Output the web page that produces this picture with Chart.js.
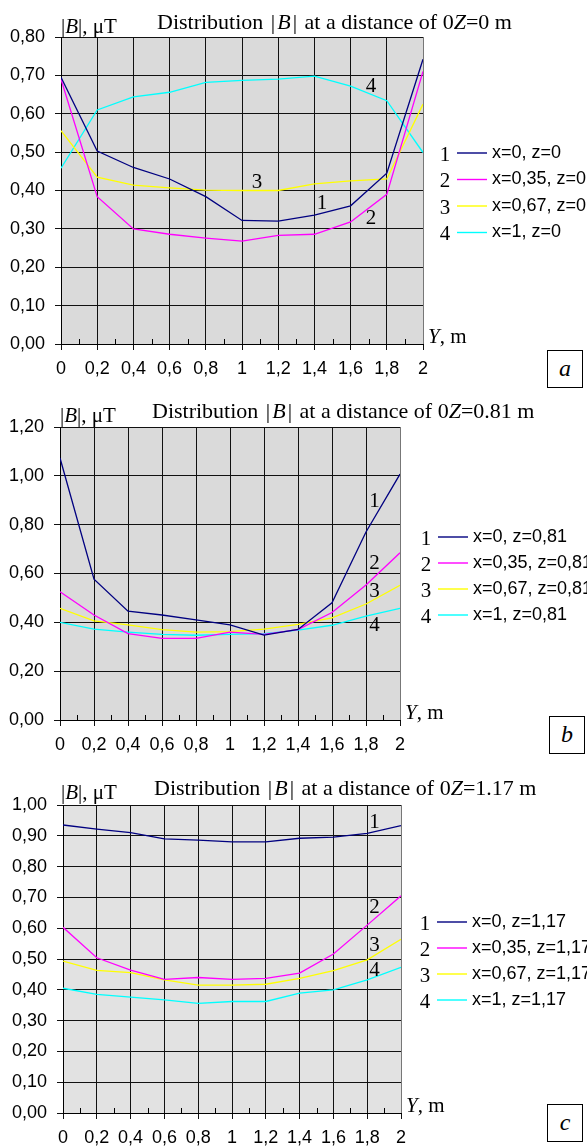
<!DOCTYPE html>
<html><head><meta charset="utf-8">
<script src="https://cdn.jsdelivr.net/npm/chart.js@4.4.0/dist/chart.umd.min.js"></script>
<style>
html,body{margin:0;padding:0;background:#fff;}
#page{position:relative;width:587px;height:1147px;overflow:hidden;background:#fff;}
.cv{position:absolute;left:0;width:587px;}
.t{position:absolute;font-family:"Liberation Serif","Times New Roman",serif;font-size:21px;line-height:21px;white-space:nowrap;color:#000;}
.t.ttl{font-size:22px;}
.t i{font-style:italic;}
.bar{margin:0 2px;}
.box{position:absolute;width:34px;height:36px;border:1px solid #000;font-family:"Liberation Serif","Times New Roman",serif;font-style:italic;font-size:24px;text-align:center;line-height:34px;color:#000;background:#fff;}
</style></head>
<body><div id="page">
<div class="cv" style="top:0;height:395px"><canvas id="cA"></canvas></div>
<div class="cv" style="top:395px;height:365px"><canvas id="cB"></canvas></div>
<div class="cv" style="top:760px;height:387px"><canvas id="cC"></canvas></div>

<div class="t" style="left:61px;top:16px">|<i>B</i>|, μT</div>
<div class="t ttl" style="left:157px;top:11px">Distribution <span class="bar">|</span><i>B</i><span class="bar">|</span> at a distance of 0<i>Z</i>=0 m</div>
<div class="t" style="left:428px;top:326px"><i>Y</i>, m</div>
<div class="box" style="left:547px;top:350px">a</div>

<div class="t" style="left:60px;top:405px">|<i>B</i>|, μT</div>
<div class="t ttl" style="left:152px;top:400px">Distribution <span class="bar">|</span><i>B</i><span class="bar">|</span> at a distance of 0<i>Z</i>=0.81 m</div>
<div class="t" style="left:405px;top:702px"><i>Y</i>, m</div>
<div class="box" style="left:549px;top:716px">b</div>

<div class="t" style="left:61px;top:782px">|<i>B</i>|, μT</div>
<div class="t ttl" style="left:154px;top:777px">Distribution <span class="bar">|</span><i>B</i><span class="bar">|</span> at a distance of 0<i>Z</i>=1.17 m</div>
<div class="t" style="left:406px;top:1095px"><i>Y</i>, m</div>
<div class="box" style="left:547px;top:1104px">c</div>
</div>
<script>
// ---- data ----
const yPositions = [0, 0.2, 0.4, 0.6, 0.8, 1, 1.2, 1.4, 1.6, 1.8, 2];
const xTickLabels = ['0','0,2','0,4','0,6','0,8','1','1,2','1,4','1,6','1,8','2'];
const yTickLabelsA = ['0,00','0,10','0,20','0,30','0,40','0,50','0,60','0,70','0,80'];
const yTickLabelsB = ['0,00','0,20','0,40','0,60','0,80','1,00','1,20'];
const yTickLabelsC = ['0,00','0,10','0,20','0,30','0,40','0,50','0,60','0,70','0,80','0,90','1,00'];

const legendA = ['x=0, z=0','x=0,35, z=0','x=0,67, z=0','x=1, z=0'];
const legendB = ['x=0, z=0,81','x=0,35, z=0,81','x=0,67, z=0,81','x=1, z=0,81'];
const legendC = ['x=0, z=1,17','x=0,35, z=1,17','x=0,67, z=1,17','x=1, z=1,17'];

const a1 = [0.695,0.503,0.460,0.430,0.384,0.322,0.320,0.336,0.360,0.445,0.742];
const a2 = [0.690,0.384,0.300,0.286,0.276,0.268,0.283,0.286,0.318,0.390,0.710];
const a3 = [0.556,0.435,0.414,0.407,0.401,0.400,0.400,0.417,0.425,0.430,0.625];
const a4 = [0.458,0.610,0.644,0.656,0.682,0.687,0.690,0.698,0.672,0.634,0.499];

const b1 = [1.073,0.577,0.446,0.430,0.410,0.390,0.348,0.371,0.480,0.770,1.007];
const b2 = [0.525,0.430,0.354,0.334,0.334,0.360,0.351,0.370,0.440,0.553,0.685];
const b3 = [0.457,0.406,0.390,0.370,0.360,0.362,0.372,0.392,0.418,0.475,0.552];
const b4 = [0.400,0.372,0.360,0.351,0.347,0.351,0.354,0.368,0.388,0.425,0.457];

const c1 = [0.935,0.922,0.910,0.890,0.886,0.880,0.880,0.892,0.896,0.908,0.933];
const c2 = [0.603,0.504,0.464,0.434,0.440,0.434,0.437,0.454,0.516,0.610,0.705];
const c3 = [0.493,0.463,0.456,0.432,0.415,0.415,0.418,0.437,0.462,0.497,0.564];
const c4 = [0.405,0.385,0.376,0.367,0.356,0.362,0.362,0.389,0.400,0.432,0.473];

// curve-number annotations (data coordinates)
const notesA = [{t:'1',x:1.442,y:0.365},{t:'2',x:1.713,y:0.326},{t:'3',x:1.083,y:0.422},{t:'4',x:1.713,y:0.672}];
const notesB = [{t:'1',x:1.85,y:0.895},{t:'2',x:1.85,y:0.643},{t:'3',x:1.85,y:0.525},{t:'4',x:1.85,y:0.388}];
const notesC = [{t:'1',x:1.843,y:0.942},{t:'2',x:1.843,y:0.666},{t:'3',x:1.843,y:0.545},{t:'4',x:1.843,y:0.464}];

const colors = ['#000080','#ff00ff','#ffff00','#00ffff'];
const SANS = '"Liberation Sans", Arial, sans-serif';
const SERIF = '"Liberation Serif", "Times New Roman", serif';

const extras = {
  id: 'extras',
  beforeDraw(chart, args, o) {
    const a = chart.chartArea, ctx = chart.ctx;
    ctx.save(); ctx.fillStyle = o.bg; ctx.fillRect(a.left, a.top, a.right - a.left, a.bottom - a.top); ctx.restore();
  },
  afterDraw(chart, args, o) {
    const ctx = chart.ctx, a = chart.chartArea, xs = chart.scales.x, ys = chart.scales.y;
    ctx.save();
    // minor ticks between major x ticks
    ctx.strokeStyle = '#000'; ctx.lineWidth = 1;
    const tv = xs.ticks.map(t => t.value);
    for (let i = 0; i < tv.length - 1; i++) {
      const px = Math.round(xs.getPixelForValue((tv[i] + tv[i+1]) / 2)) + 0.5;
      ctx.beginPath(); ctx.moveTo(px, a.bottom); ctx.lineTo(px, a.bottom - 5); ctx.stroke();
    }
    // right border
    ctx.strokeStyle = '#777';
    ctx.beginPath(); ctx.moveTo(Math.round(a.right) + 0.5, a.top); ctx.lineTo(Math.round(a.right) + 0.5, a.bottom); ctx.stroke();
    // curve numbers
    ctx.fillStyle = '#000'; ctx.font = '21px ' + SERIF; ctx.textAlign = 'center'; ctx.textBaseline = 'middle';
    o.notes.forEach(n => ctx.fillText(n.t, xs.getPixelForValue(n.x), ys.getPixelForValue(n.y)));
    // legend
    chart.data.datasets.forEach((ds, i) => {
      const y = o.legY + i * o.legRow;
      ctx.fillStyle = '#000'; ctx.font = '21px ' + SERIF; ctx.textAlign = 'center'; ctx.textBaseline = 'middle';
      ctx.fillText(String(i + 1), o.legX, y + 2);
      ctx.strokeStyle = ds.borderColor; ctx.lineWidth = 1.4;
      ctx.beginPath(); ctx.moveTo(o.legX + 12, y); ctx.lineTo(o.legX + 42, y); ctx.stroke();
      ctx.font = '18px ' + SANS; ctx.textAlign = 'left';
      ctx.fillText(ds.label, o.legX + 47, y);
    });
    ctx.restore();
  }
};

function makeChart(id, H, area, series, labels, yMax, yStep, yTicks, notes, bg, leg) {
  const xH = 50;
  return new Chart(document.getElementById(id), {
    type: 'line',
    data: {
      datasets: series.map((vals, i) => ({
        label: labels[i],
        data: yPositions.map((x, j) => ({x: x, y: vals[j]})),
        borderColor: colors[i], borderWidth: 1.3, pointRadius: 0, tension: 0, fill: false
      }))
    },
    options: {
      responsive: true, maintainAspectRatio: false, animation: false,
      layout: { padding: { left: 0, top: area.top, right: 587 - area.right, bottom: H - area.bottom - xH } },
      plugins: { legend: { display: false }, title: { display: false }, tooltip: { enabled: false },
        extras: { bg: bg, notes: notes, legX: leg.x, legY: leg.y, legRow: leg.row } },
      scales: {
        x: { type: 'linear', min: 0, max: 2,
          afterFit: s => { s.height = xH; },
          ticks: { stepSize: 0.2, autoSkip: false, maxRotation: 0, color: '#000', padding: 8,
            font: { family: SANS, size: 18 }, callback: (v, i) => xTickLabels[i] },
          grid: { color: '#111', lineWidth: 1, tickLength: 6 },
          border: { color: '#000', width: 1 } },
        y: { min: 0, max: yMax,
          afterFit: s => { s.width = area.left; },
          ticks: { stepSize: yStep, autoSkip: false, color: '#000', padding: 10,
            font: { family: SANS, size: 18 }, callback: (v, i) => yTicks[i] },
          grid: { color: '#111', lineWidth: 1, tickLength: 6 },
          border: { color: '#000', width: 1 } }
      }
    },
    plugins: [extras]
  });
}

makeChart('cA', 395, {left: 61, top: 37, right: 423, bottom: 344}, [a1, a2, a3, a4], legendA, 0.8, 0.1, yTickLabelsA, notesA, '#dadada', {x: 445, y: 153, row: 26.5});
makeChart('cB', 365, {left: 60, top: 32, right: 400, bottom: 325}, [b1, b2, b3, b4], legendB, 1.2, 0.2, yTickLabelsB, notesB, '#dadada', {x: 426, y: 142, row: 26});
makeChart('cC', 387, {left: 63, top: 45, right: 401, bottom: 353}, [c1, c2, c3, c4], legendC, 1.0, 0.1, yTickLabelsC, notesC, '#e2e2e2', {x: 425, y: 162, row: 26});
</script>
</body></html>
